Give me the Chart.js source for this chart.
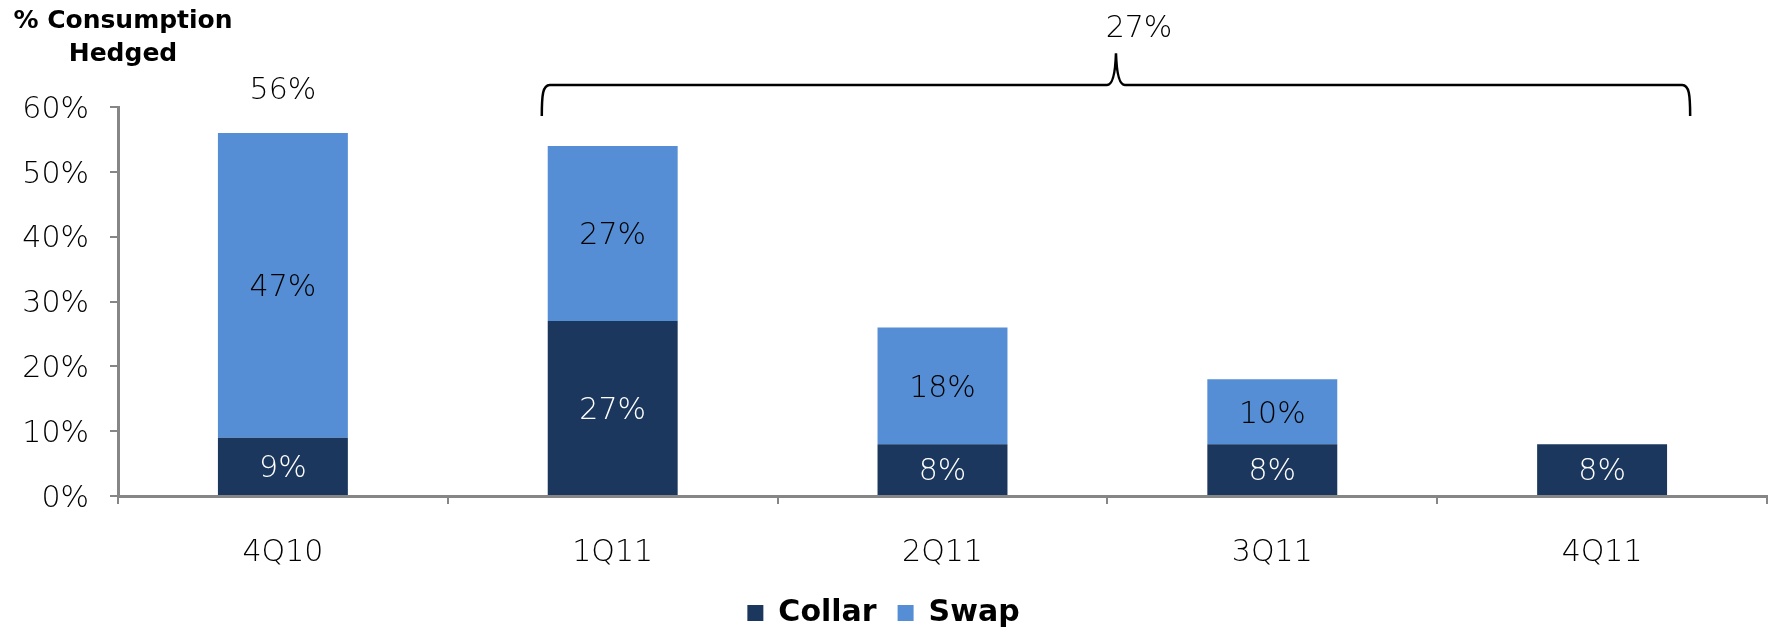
<!DOCTYPE html>
<html>
<head>
<meta charset="utf-8">
<script src="https://cdn.jsdelivr.net/npm/chart.js@4.4.0/dist/chart.umd.min.js"></script>
<style>
  html, body { margin: 0; padding: 0; background: #fff; }
</style>
</head>
<body>
<canvas id="hedgeChart" width="1769" height="629"></canvas>
<script>
// quarterly hedge mix, % of consumption
const quarters = ['4Q10', '1Q11', '2Q11', '3Q11', '4Q11'];
const collarPct = [9, 27, 8, 8, 8];
const swapPct = [47, 27, 18, 10, 0];
const yTickStep = 10;
const yMax = 60;
const bracketPct = 27;           // 1Q11-4Q11 average
const bracketFrom = 0.785;       // category positions spanned by the brace
const bracketTo = 4.267;
const titleLines = ['% Consumption', 'Hedged'];

const FONT = 'DejaVu Sans';
const LIGHT = '200';
const COLLAR = '#1b375e';
const SWAP = '#558ed5';
const AXIS = '#868686';

// value labels centred in each stacked segment
const segmentLabels = {
    id: 'segmentLabels',
    afterDatasetsDraw(chart) {
        const ctx = chart.ctx;
        ctx.save();
        ctx.font = LIGHT + ' 30px "' + FONT + '"';
        ctx.textAlign = 'center';
        ctx.textBaseline = 'middle';
        chart.data.datasets.forEach((ds, di) => {
            const meta = chart.getDatasetMeta(di);
            meta.data.forEach((bar, i) => {
                const v = ds.data[i];
                if (!v) return;
                ctx.fillStyle = ds.labelColor;
                ctx.fillText(v + '%', bar.x, (bar.y + bar.base) / 2 + 3);
            });
        });
        ctx.restore();
    }
};

// axis title, first-quarter total and the brace over the 2011 quarters
const annotations = {
    id: 'annotations',
    afterDraw(chart) {
        const ctx = chart.ctx;
        const xs = chart.scales.x;
        const ys = chart.scales.y;
        ctx.save();

        ctx.fillStyle = '#000';
        ctx.textAlign = 'center';
        ctx.textBaseline = 'middle';
        ctx.font = 'bold 25px "' + FONT + '"';
        ctx.fillText(titleLines[0], 123, 21);
        ctx.fillText(titleLines[1], 123, 54);

        // total above the 4Q10 stack
        const topBar = chart.getDatasetMeta(1).data[0];
        ctx.font = LIGHT + ' 30px "' + FONT + '"';
        ctx.fillText((collarPct[0] + swapPct[0]) + '%', topBar.x, topBar.y - 42);

        // brace
        const left = xs.getPixelForValue(bracketFrom);
        const right = xs.getPixelForValue(bracketTo);
        const mid = (left + right) / 2;
        const lineY = ys.getPixelForValue(63.4);
        const endY = ys.getPixelForValue(58.6);
        const peakY = ys.getPixelForValue(68.3);
        ctx.strokeStyle = '#000';
        ctx.lineWidth = 2.5;
        ctx.beginPath();
        ctx.moveTo(left, endY);
        ctx.bezierCurveTo(left, lineY + 10, left + 1, lineY, left + 8, lineY);
        ctx.lineTo(mid - 9, lineY);
        ctx.quadraticCurveTo(mid - 1, lineY, mid, peakY);
        ctx.quadraticCurveTo(mid + 1, lineY, mid + 9, lineY);
        ctx.lineTo(right - 8, lineY);
        ctx.bezierCurveTo(right - 1, lineY, right, lineY + 10, right, endY);
        ctx.stroke();

        ctx.fillText(bracketPct + '%', mid + 23, ys.getPixelForValue(72.0));
        ctx.restore();
    }
};

const tickFont = { family: FONT, size: 30, weight: LIGHT };

new Chart(document.getElementById('hedgeChart').getContext('2d'), {
    type: 'bar',
    data: {
        labels: quarters,
        datasets: [
            { label: 'Collar', data: collarPct, backgroundColor: COLLAR, borderWidth: 0, labelColor: '#fff' },
            { label: 'Swap', data: swapPct, backgroundColor: SWAP, borderWidth: 0, labelColor: '#000' }
        ]
    },
    options: {
        responsive: false,
        animation: false,
        barPercentage: 0.394,
        categoryPercentage: 1,
        layout: { padding: { top: 107, right: 2, left: 0, bottom: -9 } },
        plugins: {
            legend: {
                position: 'bottom',
                labels: {
                    boxWidth: 16,
                    boxHeight: 16,
                    padding: 21,
                    color: '#000',
                    font: { family: FONT, size: 30, weight: 'bold' }
                }
            },
            tooltip: { enabled: false }
        },
        scales: {
            x: {
                stacked: true,
                grid: { drawOnChartArea: false, drawTicks: true, tickLength: 8, color: AXIS, lineWidth: 2 },
                border: { color: AXIS, width: 3 },
                ticks: { color: '#000', padding: 31, font: tickFont },
                afterFit(scale) { scale.height = 81; }
            },
            y: {
                stacked: true,
                min: 0,
                max: yMax,
                grid: { drawOnChartArea: false, drawTicks: true, tickLength: 8, color: AXIS, lineWidth: 2 },
                border: { color: AXIS, width: 3 },
                ticks: {
                    stepSize: yTickStep,
                    color: '#000',
                    padding: 21,
                    labelOffset: 3,
                    font: tickFont,
                    callback: v => v + '%'
                },
                afterFit(scale) { scale.width = 118; }
            }
        }
    },
    plugins: [segmentLabels, annotations]
});
</script>
</body>
</html>
